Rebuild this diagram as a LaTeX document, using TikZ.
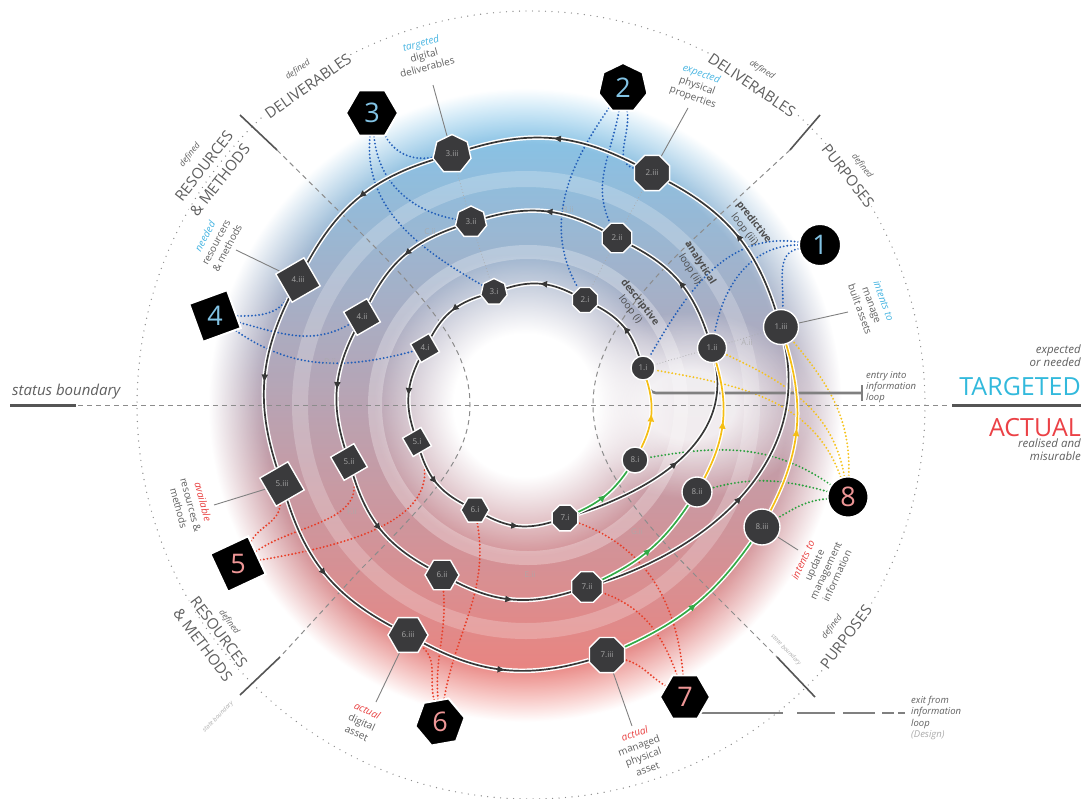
\documentclass[tikz,border=0pt]{standalone}
\usepackage{fontspec}
\setmainfont{Open Sans}
\usetikzlibrary{shapes.geometric, arrows.meta, decorations.markings}
\definecolor{nodegrey}{RGB}{58,58,60}
\definecolor{nodetxt}{RGB}{165,165,165}
\definecolor{loopgrey}{RGB}{55,55,55}
\definecolor{numblue}{RGB}{130,195,228}
\definecolor{numred}{RGB}{238,150,150}
\definecolor{dotblue}{RGB}{35,95,185}
\definecolor{dotred}{RGB}{232,62,40}
\definecolor{dotgreen}{RGB}{40,160,60}
\definecolor{dotyellow}{RGB}{245,195,30}
\definecolor{flowgreen}{RGB}{50,170,70}
\definecolor{flowyellow}{RGB}{245,190,20}
\definecolor{lblue}{RGB}{70,180,225}
\definecolor{lred}{RGB}{232,64,64}
\definecolor{txtgrey}{RGB}{95,95,95}
\definecolor{tcyan}{RGB}{50,185,220}
\definecolor{ared}{RGB}{235,65,70}
\definecolor{cloudblue}{RGB}{105,190,235}
\definecolor{cloudmid}{RGB}{214,182,206}
\definecolor{cloudred}{RGB}{240,104,95}
\definecolor{dashgrey}{RGB}{140,140,140}
\definecolor{lgrey}{RGB}{170,170,170}
\definecolor{thickgrey}{RGB}{85,85,85}
\pgfdeclarelayer{bg}
\pgfdeclarelayer{mid}
\pgfsetlayers{bg,mid,main}
\pgfdeclareradialshading{ringsh}{\pgfpointorigin}{color(0bp)=(black); color(5.6bp)=(black); color(11.8bp)=(white); color(20.5bp)=(white); color(24.8bp)=(black); color(50bp)=(black)}
\pgfdeclarefading{ringfade}{\pgfuseshading{ringsh}}
\pgfdeclareradialshading{softsh}{\pgfpointorigin}{color(0bp)=(white); color(9bp)=(white); color(24.5bp)=(black); color(50bp)=(black)}
\pgfdeclarefading{softfade}{\pgfuseshading{softsh}}
\tikzset{
  ln/.style={draw=white, line width=1.4pt, fill=nodegrey, text=nodetxt, font=\fontsize{8}{8}\selectfont, inner sep=0pt},
  lcirc/.style={ln, circle},
  lpoly/.style={ln, regular polygon, regular polygon sides=#1},
  big/.style={draw=white, line width=2pt, fill=black, inner sep=0pt, font=\fontsize{27}{27}\selectfont},
  bigblue/.style={big, text=numblue},
  bigred/.style={big, text=numred},
  midarrow/.style={postaction={decorate, decoration={markings, mark=at position 0.5 with {\arrow{Triangle[length=7pt, width=6pt]}}}}},
  loopline/.style={draw=loopgrey, line width=1.7pt, preaction={draw=white, line width=4.6pt}, midarrow},
  greenline/.style={draw=flowgreen, line width=1.7pt, preaction={draw=white, line width=4.6pt}, midarrow},
  yellowline/.style={draw=flowyellow, line width=1.7pt, preaction={draw=white, line width=4.2pt}, midarrow},
  dots/.style={line width=2.1pt, line cap=round, dash pattern=on 0pt off 3.6pt},
  bluedots/.style={dots, draw=dotblue},
  reddots/.style={dots, draw=dotred},
  greendots/.style={dots, draw=dotgreen},
  yellowdots/.style={dots, draw=dotyellow},
  faintdots/.style={line width=1pt, line cap=round, dash pattern=on 0pt off 3pt, draw=lgrey},
  sectordash/.style={draw=dashgrey, line width=1pt, dash pattern=on 5pt off 4pt},
  tick/.style={draw=thickgrey, line width=1.6pt},
  thickline/.style={draw=thickgrey, line width=3pt},
  entryline/.style={draw=black!50, line width=2.6pt},
  leader/.style={draw=black!50, line width=0.9pt},
  lbl/.style={align=center, text=txtgrey, font=\fontsize{10}{12.5}\selectfont, inner sep=1pt},
  looplbl/.style={align=center, text=black!70, font=\fontsize{10}{12}\selectfont, inner sep=1pt},
  seclbl/.style={text=txtgrey, font=\fontsize{15}{15}\selectfont, fill=white, inner sep=1pt},
  deflbl/.style={text=txtgrey, font=\fontsize{8.5}{9}\itshape, fill=white, inner sep=1pt},
  tinylbl/.style={text=lgrey, font=\fontsize{6}{6}\itshape, inner sep=0pt},
  faintlbl/.style={text=lgrey, font=\fontsize{8}{8}\selectfont, opacity=0.8}
}
\begin{document}
\begin{tikzpicture}[x=1pt,y=1pt]
\useasboundingbox (0,0) rectangle (1084,-798);

% ---------- background ----------
\begin{pgfonlayer}{bg}
\shade[top color=cloudblue, middle color=cloudmid, bottom color=cloudred, path fading=ringfade, opacity=0.85] (525,-405) circle (318);
\fill[white, opacity=0.8, path fading=softfade] (690,-405) ellipse (125 and 95);
\draw[white, opacity=0.28, line width=14pt] (528,-405) circle (153);
\draw[white, opacity=0.22, line width=16pt] (526,-405) circle (226);
\draw[black!45, line width=1.4pt, line cap=round, dash pattern=on 0pt off 6.5pt] (531,-405) circle (394);
\draw[sectordash] (78,-405) -- (947,-405);
\draw[sectordash] (277,-150) -- (360,-232) .. controls (430,-302) and (470,-350) .. (470,-405) .. controls (470,-455) and (435,-495) .. (360,-570) -- (280,-657);
\draw[sectordash] (790,-150) -- (700,-233) .. controls (630,-298) and (593,-350) .. (593,-405) .. controls (593,-455) and (625,-505) .. (700,-580) -- (777,-657);
\draw[tick] (240,-115) -- (277,-150);
\draw[tick] (820,-115) -- (790,-150);
\draw[tick] (240,-695) -- (280,-657);
\draw[tick] (815,-697) -- (777,-657);
\draw[thickline] (10,-405) -- (76,-405);
\draw[thickline] (952,-405) -- (1081,-405);
\end{pgfonlayer}

% ---------- loop nodes ----------
\node[lcirc, minimum size=24pt] (n1a) at (643,-368) {1.i};
\node[lcirc, minimum size=29pt] (n1b) at (712,-348) {1.ii};
\node[lcirc, minimum size=35pt] (n1c) at (781,-327) {1.iii};
\node[lpoly=8, minimum size=27pt] (n2a) at (585,-300) {2.i};
\node[lpoly=8, minimum size=32pt] (n2b) at (617,-238) {2.ii};
\node[lpoly=8, minimum size=38pt] (n2c) at (652,-173) {2.iii};
\node[lpoly=7, minimum size=27pt] (n3a) at (494,-292) {3.i};
\node[lpoly=7, minimum size=32pt] (n3b) at (471,-222) {3.ii};
\node[lpoly=7, minimum size=39pt] (n3c) at (452,-154) {3.iii};
\node[lpoly=4, shape border rotate=30, minimum size=30pt] (n4a) at (425,-348) {4.i};
\node[lpoly=4, shape border rotate=30, minimum size=38pt] (n4b) at (362,-317) {4.ii};
\node[lpoly=4, shape border rotate=30, minimum size=46pt] (n4c) at (298,-280) {4.iii};
\node[lpoly=4, shape border rotate=30, minimum size=30pt] (n5a) at (417,-442) {5.i};
\node[lpoly=4, shape border rotate=30, minimum size=38pt] (n5b) at (349,-462) {5.ii};
\node[lpoly=4, shape border rotate=30, minimum size=46pt] (n5c) at (282,-484) {5.iii};
\node[lpoly=6, minimum size=28pt] (n6a) at (475,-510) {6.i};
\node[lpoly=6, minimum size=34pt] (n6b) at (442,-575) {6.ii};
\node[lpoly=6, minimum size=40pt] (n6c) at (408,-635) {6.iii};
\node[lpoly=8, minimum size=28pt] (n7a) at (565,-518) {7.i};
\node[lpoly=8, minimum size=33pt] (n7b) at (587,-587) {7.ii};
\node[lpoly=8, minimum size=38pt] (n7c) at (607,-655) {7.iii};
\node[lcirc, minimum size=26pt] (n8a) at (635,-460) {8.i};
\node[lcirc, minimum size=30pt] (n8b) at (697,-492) {8.ii};
\node[lcirc, minimum size=36pt] (n8c) at (762,-527) {8.iii};

% ---------- numbered nodes ----------
\node[bigblue, circle, minimum size=42pt] (N1) at (820,-245) {1};
\node[bigblue, regular polygon, regular polygon sides=7, minimum size=50pt] (N2) at (623,-88) {2};
\node[bigblue, regular polygon, regular polygon sides=6, minimum size=52pt] (N3) at (372,-113) {3};
\node[bigblue, regular polygon, regular polygon sides=4, shape border rotate=20, minimum size=57pt] (N4) at (215,-316) {4};
\node[bigred, regular polygon, regular polygon sides=4, shape border rotate=25, minimum size=59pt] (N5) at (238,-564) {5};
\node[bigred, regular polygon, regular polygon sides=6, shape border rotate=10, minimum size=50pt] (N6) at (440,-722) {6};
\node[bigred, regular polygon, regular polygon sides=6, minimum size=50pt] (N7) at (685,-697) {7};
\node[bigred, circle, minimum size=41pt] (N8) at (848,-497) {8};

% ---------- connectors ----------
\begin{pgfonlayer}{mid}
\draw[faintdots] (n1c) -- (n1b) -- (n1a);
\draw[faintdots] (n2c) -- (n2b) -- (n2a);
\draw[faintdots] (n3c) -- (n3b) -- (n3a);
\draw[bluedots] (N1) to[out=190, in=85] (n1c);
\draw[bluedots] (N1) to[out=180, in=80] (n1b);
\draw[bluedots] (N1) to[out=172, in=60] (n1a);
\draw[bluedots] (N2) to[out=-80, in=165] (n2c);
\draw[bluedots] (N2) to[out=-100, in=115] (n2b);
\draw[bluedots] (N2) to[out=-125, in=120] (n2a);
\draw[bluedots] (N3) to[out=-60, in=190] (n3c);
\draw[bluedots] (N3) to[out=-85, in=170] (n3b);
\draw[bluedots] (N3) to[out=-95, in=150] (n3a);
\draw[bluedots] (N4) to[out=0, in=-120] (n4c);
\draw[bluedots] (N4) to[out=-15, in=-150] (n4b);
\draw[bluedots] (N4) to[out=-35, in=-165] (n4a);
\draw[reddots] (N5) to[out=60, in=-95] (n5c);
\draw[reddots] (N5) to[out=35, in=-75] (n5b);
\draw[reddots] (N5) to[out=10, in=-70] (n5a);
\draw[reddots] (N6) to[out=105, in=-40] (n6c);
\draw[reddots] (N6) to[out=95, in=-85] (n6b);
\draw[reddots] (N6) to[out=80, in=-80] (n6a);
\draw[reddots] (N7) to[out=150, in=-15] (n7c);
\draw[reddots] (N7) to[out=110, in=-20] (n7b);
\draw[reddots] (N7) to[out=95, in=-20] (n7a);
\draw[greendots] (N8) to[out=185, in=30] (n8c);
\draw[greendots] (N8) to[out=165, in=15] (n8b);
\draw[greendots] (N8) to[out=145, in=10] (n8a);
\draw[yellowdots] (N8) to[out=88, in=-50] (n1c);
\draw[yellowdots] (N8) to[out=100, in=-25] (n1b);
\draw[yellowdots] (N8) to[out=110, in=-10] (n1a);
\coordinate (entrybar) at (862,-393);
\draw[entryline] (entrybar) -- (656,-393) to[out=180, in=-75] (n1a);
\draw[entryline] ([yshift=8pt]entrybar) -- ([yshift=-8pt]entrybar);
\coordinate (ex2) at (783,-713);
\coordinate (ex3) at (797,-713);
\coordinate (exend) at (906,-713);
\draw[entryline] (N7.center |- ex2) -- (ex2);
\draw[entryline, dash pattern=on 38pt off 8pt on 32pt off 7pt on 12pt off 4pt on 7pt] (ex3) -- (exend);
\coordinate (L3) at (433,-85);  \draw[leader] (L3) -- (n3c);
\coordinate (L2) at (688,-108); \draw[leader] (L2) -- (n2c);
\coordinate (L1) at (848,-312); \draw[leader] (L1) -- (n1c);
\coordinate (L4) at (236,-250); \draw[leader] (L4) -- (n4c);
\coordinate (L5) at (214,-505); \draw[leader] (L5) -- (n5c);
\coordinate (L6) at (376,-702); \draw[leader] (L6) -- (n6c);
\coordinate (L7) at (632,-726); \draw[leader] (L7) -- (n7c);
\coordinate (L8) at (798,-550); \draw[leader] (L8) -- (n8c);
\draw[loopline] (n1a) to[bend right=22] (n2a);
\draw[loopline] (n2a) to[bend right=22] (n3a);
\draw[loopline] (n3a) to[bend right=22] (n4a);
\draw[loopline] (n4a) to[bend right=22] (n5a);
\draw[loopline] (n5a) to[bend right=22] (n6a);
\draw[loopline] (n6a) to[bend right=22] (n7a);
\draw[loopline] (n7a) to[out=18, in=-78] (n1b);
\draw[loopline] (n1b) to[bend right=22] (n2b);
\draw[loopline] (n2b) to[bend right=22] (n3b);
\draw[loopline] (n3b) to[bend right=22] (n4b);
\draw[loopline] (n4b) to[bend right=22] (n5b);
\draw[loopline] (n5b) to[bend right=22] (n6b);
\draw[loopline] (n6b) to[bend right=22] (n7b);
\draw[loopline] (n7b) to[out=18, in=-78] (n1c);
\draw[loopline] (n1c) to[bend right=22] (n2c);
\draw[loopline] (n2c) to[bend right=22] (n3c);
\draw[loopline] (n3c) to[bend right=22] (n4c);
\draw[loopline] (n4c) to[bend right=22] (n5c);
\draw[loopline] (n5c) to[bend right=22] (n6c);
\draw[loopline] (n6c) to[bend right=22] (n7c);
\draw[greenline] (n7a) to[bend right=15] (n8a);
\draw[greenline] (n7b) to[bend right=15] (n8b);
\draw[greenline] (n7c) to[bend right=15] (n8c);
\draw[yellowline] (n8a) to[bend right=22] (n1a);
\draw[yellowline] (n8b) to[bend right=22] (n1b);
\draw[yellowline] (n8c) to[bend right=22] (n1c);
\end{pgfonlayer}

% ---------- labels ----------
\node[lbl, rotate=15] (t3) at (424,-55) {{\color{lblue}\itshape targeted}\\digital\\deliverables};
\node[lbl, rotate=-20] (t2) at (697,-86) {{\color{lblue}\itshape expected}\\physical\\properties};
\node[lbl, rotate=-70] (t1) at (872,-305) {{\color{lblue}\itshape intents to}\\manage\\built assets};
\node[lbl, rotate=62] (t4) at (216,-242) {{\color{lblue}\itshape needed}\\resourcers\\\& methods};
\node[lbl, rotate=-75] (t5) at (191,-505) {{\color{lred}\itshape available}\\resources \&\\methods};
\node[lbl, rotate=-25] (t6) at (362,-722) {{\color{lred}\itshape actual}\\digital\\asset};
\node[lbl, rotate=20] (t7) at (641,-751) {{\color{lred}\itshape actual}\\managed\\physical\\asset};
\node[lbl, rotate=65] (t8) at (820,-568) {{\color{lred}\itshape intents to}\\update\\management\\information};

\node[looplbl, rotate=-52] (lp3) at (749,-226) {\textbf{predictive}\\loop (iii)};
\node[looplbl, rotate=-58] (lp2) at (695,-266) {\textbf{analytical}\\loop (ii)};
\node[looplbl, rotate=-52] (lp1) at (635,-306) {\textbf{descriptive}\\loop (i)};

\node[seclbl, rotate=35] (s1) at (308,-86) {DELIVERABLES};
\node[deflbl, rotate=35] (s1d) at (298,-70) {defined};
\node[seclbl, rotate=52] (s2) at (204,-166) {RESOURCES};
\node[seclbl, rotate=52] (s2b) at (220,-180) {\& METHODS};
\node[deflbl, rotate=52] (s2d) at (190,-155) {defined};
\node[seclbl, rotate=-34] (s3) at (752,-85) {DELIVERABLES};
\node[deflbl, rotate=-34] (s3d) at (762,-70) {defined};
\node[seclbl, rotate=-52] (s4) at (848,-176) {PURPOSES};
\node[deflbl, rotate=-52] (s4d) at (862,-166) {defined};
\node[seclbl, rotate=-53] (s5) at (219,-632) {RESOURCES};
\node[seclbl, rotate=-53] (s5b) at (203,-645) {\& METHODS};
\node[deflbl, rotate=-53] (s5d) at (229,-622) {defined};
\node[seclbl, rotate=53] (s6) at (846,-637) {PURPOSES};
\node[deflbl, rotate=53] (s6d) at (832,-627) {defined};
\node[tinylbl, rotate=45] (sb1) at (218,-717) {state boundary};
\node[tinylbl, rotate=-46] (sb2) at (786,-650) {state boundary};

\node[anchor=south east, align=right, text=txtgrey, font=\fontsize{11.5}{13}\itshape, inner sep=0pt] (exp) at (1081,-367) {expected\\or needed};
\node[anchor=east, text=tcyan, font=\fontsize{25}{25}\selectfont, inner sep=0pt] (tgt) at (1081,-387) {TARGETED};
\node[anchor=east, text=ared, font=\fontsize{25}{25}\selectfont, inner sep=0pt] (act) at (1081,-428) {ACTUAL};
\node[anchor=north east, align=right, text=txtgrey, font=\fontsize{11.5}{13}\itshape, inner sep=0pt] (real) at (1081,-439) {realised and\\misurable};
\node[anchor=west, text=txtgrey, font=\fontsize{15}{15}\itshape, inner sep=0pt] (sbl) at (12,-392) {status boundary};
\node[anchor=west, align=left, text=txtgrey, font=\fontsize{9.5}{11}\itshape, inner sep=0pt] (entry) at (866,-387) {entry into\\information\\loop};
\node[anchor=west, align=left, text=txtgrey, font=\fontsize{9.5}{11.5}\itshape, inner sep=0pt] (exit) at (911,-718) {exit from\\information\\loop\\{\color{lgrey}(Design)}};

\node[faintlbl] (fa) at (747,-343) {A.ii};
\node[faintlbl] (fb) at (568,-210) {B.ii};
\node[faintlbl] (fc) at (430,-232) {C.ii};
\node[faintlbl] (fd) at (330,-362) {D.ii};
\node[faintlbl] (ff) at (352,-512) {F.ii};
\node[faintlbl] (fe) at (530,-575) {E.ii};
\node[faintlbl] (fg) at (637,-532) {G.ii};
\end{tikzpicture}
\end{document}
